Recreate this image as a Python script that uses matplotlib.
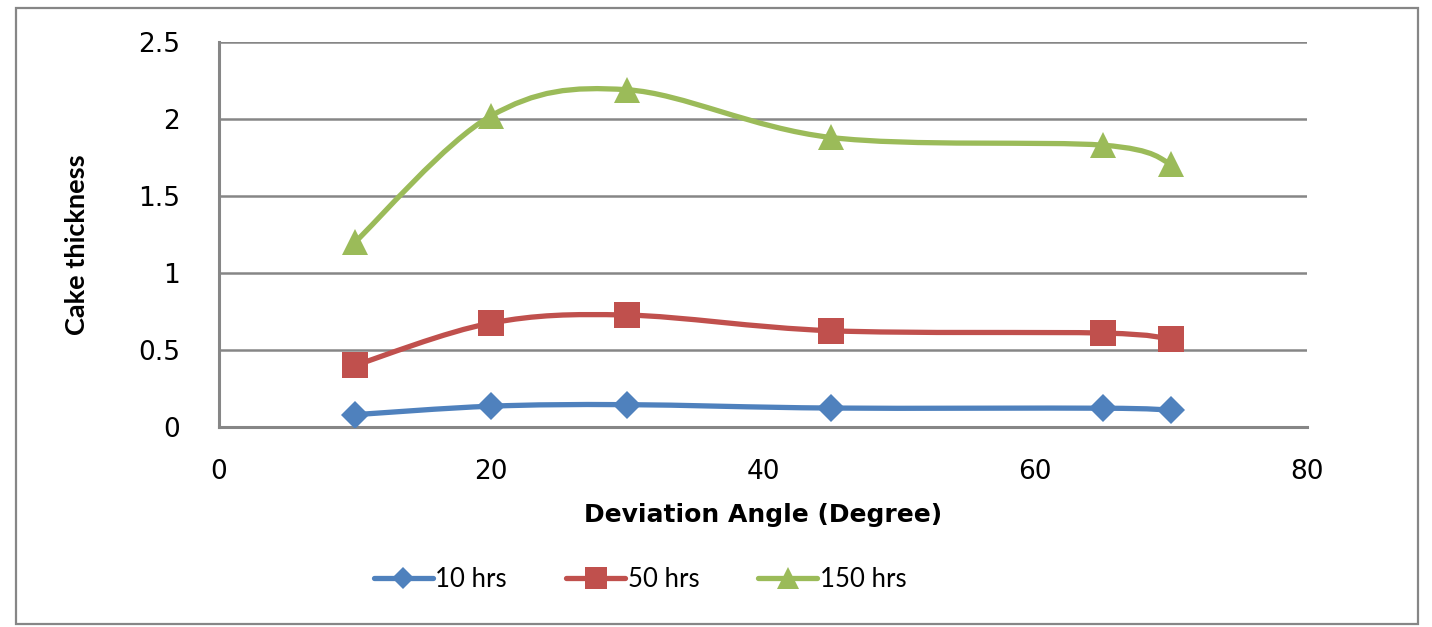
import matplotlib
matplotlib.use("Agg")
import matplotlib.pyplot as plt
import numpy as np
from matplotlib.path import Path
from matplotlib.patches import PathPatch, Rectangle
from matplotlib.lines import Line2D

# ---- data ----
angles = [10, 20, 30, 45, 65, 70]
hrs10 = [0.08, 0.135, 0.145, 0.123, 0.122, 0.11]
hrs50 = [0.40, 0.675, 0.727, 0.625, 0.61, 0.57]
hrs150 = [1.20, 2.02, 2.19, 1.88, 1.83, 1.71]
series_labels = ["10 hrs", "50 hrs", "150 hrs"]
series_colors = ["#4F81BD", "#C0504D", "#9BBB59"]
series_markers = ["D", "s", "^"]
series_msize = [14.5, 19, 19]
xticks = [0, 20, 40, 60, 80]
yticks = [0, 0.5, 1, 1.5, 2, 2.5]

GRID = "#868686"
plt.rcParams["font.family"] = ["DejaVu Sans"]

fig = plt.figure(figsize=(14.32, 6.27), dpi=100)
ax = fig.add_axes([0.1529, 0.319, 0.7598, 0.614])

def smooth_path(xs, ys):
    P = np.column_stack([xs, ys]).astype(float)
    n = len(P)
    verts = [P[0]]
    codes = [Path.MOVETO]
    for i in range(n - 1):
        p0 = P[i - 1] if i > 0 else P[i]
        p1 = P[i]
        p2 = P[i + 1]
        p3 = P[i + 2] if i + 2 < n else P[i + 1]
        c1 = p1 + (p2 - p0) / 6.0
        c2 = p2 - (p3 - p1) / 6.0
        verts += [c1, c2, p2]
        codes += [Path.CURVE4] * 3
    return Path(verts, codes)

handles = []
for ys, lab, col, mk, ms in zip([hrs10, hrs50, hrs150], series_labels,
                                series_colors, series_markers, series_msize):
    patch = PathPatch(smooth_path(angles, ys), facecolor="none", edgecolor=col,
                      lw=3.8, capstyle="round", joinstyle="round", zorder=3)
    ax.add_patch(patch)
    ax.plot(angles, ys, linestyle="none", marker=mk, markersize=ms,
            color=col, markeredgewidth=0, zorder=4)
    handles.append(Line2D([0], [0], color=col, lw=3.8, marker=mk,
                          markersize=ms * 0.8, markeredgewidth=0,
                          solid_capstyle="round", label=lab))

ax.set_xlim(0, 80)
ax.set_ylim(0, 2.5)
ax.set_xticks(xticks)
ax.set_yticks(yticks)
ax.set_xticklabels([str(v) for v in xticks])
ax.set_yticklabels([f"{v:g}" for v in yticks])
ax.tick_params(axis="both", length=0, labelsize=19, colors="black")
ax.tick_params(axis="y", pad=28)
ax.tick_params(axis="x", pad=23)

ax.grid(axis="y", color=GRID, lw=1.8, zorder=1)
ax.set_axisbelow(True)
for s in ["top", "right"]:
    ax.spines[s].set_visible(False)
for s in ["left", "bottom"]:
    ax.spines[s].set_color(GRID)
    ax.spines[s].set_linewidth(2.2)

ax.set_xlabel("Deviation Angle (Degree)", fontsize=18, fontweight="bold",
              family="DejaVu Sans", va="center")
ax.xaxis.set_label_coords(0.5, -0.229)
ax.set_ylabel("Cake thickness", fontsize=19.5, fontweight="bold",
              family="Lato", va="center")
ax.yaxis.set_label_coords(-0.1305, 0.473)

leg = fig.legend(handles=handles, loc="center", bbox_to_anchor=(0.447, 0.075),
                 ncol=3, frameon=False, prop={"family": "Lato", "size": 18.5},
                 handlelength=2.3, handletextpad=0.1, columnspacing=2.3)

fig.add_artist(Rectangle((16 / 1432, 3 / 627), 1402 / 1432, 616 / 627,
                         transform=fig.transFigure, fill=False,
                         edgecolor=GRID, lw=1.6))

fig.savefig("out.png", dpi=100)
